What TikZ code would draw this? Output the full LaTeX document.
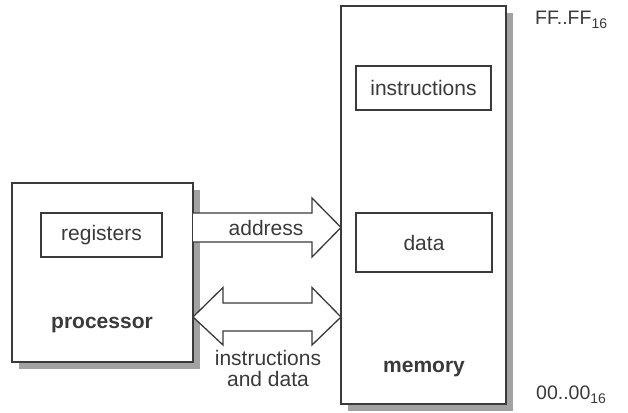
\documentclass[tikz,border=0pt]{standalone}
\usepackage{fontspec}
\setmainfont{Liberation Sans}
\usetikzlibrary{calc}
\definecolor{ink}{HTML}{3A3A3A}
\definecolor{shade}{HTML}{A2A2A2}
\newcommand{\hexsub}[1]{\raisebox{-4pt}{\fontsize{14}{16}\selectfont #1}}
\begin{document}
\begin{tikzpicture}[x=1pt,y=-1pt,
  unit/.style={draw=ink,line width=1.9pt,fill=white,outer sep=0pt,inner sep=0pt,
    text=ink,font=\fontsize{21}{24}\selectfont},
  part/.style={draw=ink,line width=1.3pt,fill=white,outer sep=0pt,inner sep=0pt,
    text=ink,font=\fontsize{21}{24}\selectfont},
  label/.style={text=ink,font=\fontsize{21}{24}\selectfont,inner sep=0pt},
  title/.style={text=ink,font=\fontsize{21}{24}\selectfont\bfseries,inner sep=0pt},
  addr/.style={text=ink,font=\fontsize{19.5}{22}\selectfont,inner sep=0pt,anchor=base west},
  bus/.style={draw=ink,line width=1.3pt,fill=white,line join=miter},
  shadow/.style={fill=shade,draw=none}]
\useasboundingbox (0,0) rectangle (628,412);

% drop shadows of the two main units
\fill[shadow] (19,190) rectangle (200,369);
\fill[shadow] (348,13) rectangle (513,411);

% processor
\node[unit,minimum width=181pt,minimum height=179pt] (proc) at (102.5,272.5) {};
\node[part,minimum width=121pt,minimum height=44pt] (regs) at (101.5,235) {registers};
\node[title] (ptitle) at (102,325) {processor};

% memory
\node[unit,minimum width=165pt,minimum height=398pt] (mem) at (423.5,205) {};
\node[part,minimum width=135pt,minimum height=44pt] (instr) at (423.5,88) {instructions};
\node[part,minimum width=136pt,minimum height=59pt] (dat) at (424,242.5) {data};
\node[title] (mtitle) at (424,369) {memory};

% address bounds
\node[addr] (top) at (535,25) {FF..FF\hexsub{16}};
\node[addr] (bot) at (536,399) {00..00\hexsub{16}};

% address bus: one-way arrow from processor to memory
\coordinate (a0) at (proc.east |- 0,227.5);
\coordinate (a1) at (mem.west |- 0,227.5);
\path[bus] ($(a0)+(0,-14.5)$) -- ($(a1)+(-29,-14.5)$) -- ($(a1)+(-29,-29.5)$)
  -- (a1) -- ($(a1)+(-29,29.5)$) -- ($(a1)+(-29,14.5)$) -- ($(a0)+(0,14.5)$);
\node[label] (alab) at (266,228) {address};

% data bus: two-way arrow
\coordinate (d0) at (proc.east |- 0,317);
\coordinate (d1) at (mem.west |- 0,317);
\path[bus] (d0) -- ($(d0)+(30,-29.5)$) -- ($(d0)+(30,-14)$) -- ($(d1)+(-29,-14)$)
  -- ($(d1)+(-29,-29.5)$) -- (d1) -- ($(d1)+(-29,28)$) -- ($(d1)+(-29,14)$)
  -- ($(d0)+(30,14)$) -- ($(d0)+(30,28)$) -- cycle;
\node[label,align=center] (dlab) at (268,368) {instructions\\[-3pt]and data};
\end{tikzpicture}
\end{document}
